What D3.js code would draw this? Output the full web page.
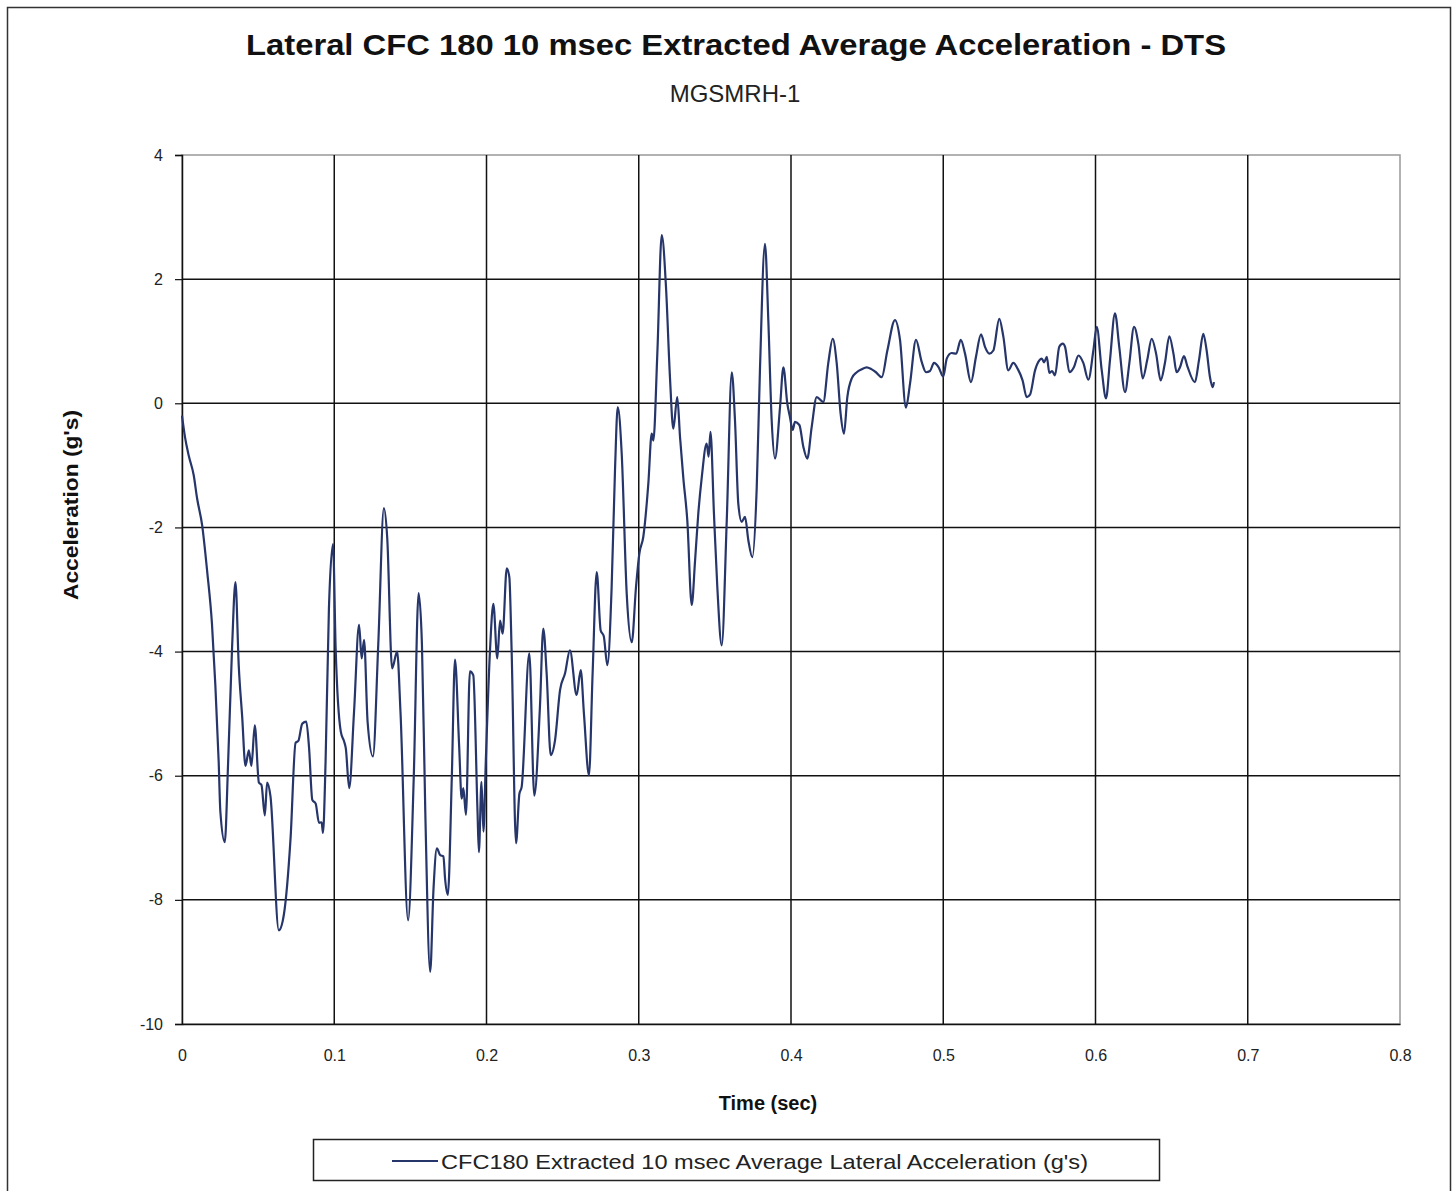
<!DOCTYPE html>
<html><head><meta charset="utf-8">
<script src="https://cdn.jsdelivr.net/npm/d3@7"></script>
<style>body{margin:0;background:#fff;} svg{display:block;font-family:"Liberation Sans",Arial,sans-serif;}</style>
</head><body>
<svg id="chart" width="1455" height="1191"></svg>
<script>
const titleText = "Lateral CFC 180 10 msec Extracted Average Acceleration - DTS";
const subtitleText = "MGSMRH-1";
const xLabel = "Time (sec)";
const yLabel = "Acceleration  (g's)";
const legendLabel = "CFC180 Extracted 10 msec Average Lateral Acceleration (g's)";
const xTicks = [0, 0.1, 0.2, 0.3, 0.4, 0.5, 0.6, 0.7, 0.8];
const xTickLabels = ["0", "0.1", "0.2", "0.3", "0.4", "0.5", "0.6", "0.7", "0.8"];
const yTicks = [4, 2, 0, -2, -4, -6, -8, -10];
const yTickLabels = ["4", "2", "0", "-2", "-4", "-6", "-8", "-10"];

// time in milliseconds
const timeMs = [
0,2,4.5,7.7,9.9,13.2,16.5,19.7,21.9,24.1,25.2,28.1,30.3,32.9,35.1,37.3,39.5,41.7,43.9,45.6,
47.8,50.5,52.2,54.4,55.9,58.1,63.6,66.9,71.3,74.6,76.4,79.0,81.6,83.4,85.6,87.8,90.0,91.7,92.6,94.3,
96.5,99.2,100.9,104.3,106.5,107.6,109.8,113.0,116.3,118.0,119.6,121.9,125.4,128.9,132.6,134.8,138.0,141.3,143.5,148.5,
152.2,155.4,157.6,159.8,163.0,165.2,167.4,169.6,171.7,172.8,174.6,177.2,179.3,182.0,183.7,184.8,186.5,189.1,191.3,194.1,
195.0,196.7,198.0,199.5,202.3,204.5,207.1,208.9,210.6,213.3,215.0,216.5,219.4,221.6,223.1,228.1,231.4,235.1,237.3,239.5,
242.2,245.0,248.3,251.6,254.8,259.2,261.9,264.0,267.3,269.7,272.4,275.0,277.0,279.4,282.2,284.4,286.2,288.8,292.1,295.4,
298.2,300.4,303.0,306.3,308.5,309.6,312.2,315.1,317.9,320.5,322.7,325.3,327.1,329.3,331.9,334.8,337.0,339.1,341.4,344.6,
345.9,347.1,349.4,351.6,354.5,357.8,361.1,363.2,365.4,367.6,369.8,372.0,374.6,377.5,379.6,382.9,385.1,387.3,389.5,392.8,
395.0,397.6,399.3,401.1,402.6,405.5,408.1,410.7,413.6,416.9,421.2,424.5,427.4,430.0,432.6,434.8,437.0,439.9,443.2,446.5,
449.7,452.8,455.8,459.6,463.3,468.3,471.6,475.5,478.2,482.1,485.8,488.7,491.3,493.9,497.0,500.0,502.3,505.5,508.5,511.5,
514.3,518.2,521.5,524.8,527.4,530.3,532.9,536.8,539.5,542.7,546.0,549.0,552.1,554.8,557.0,560.3,563.1,564.7,566.3,568.0,
569.7,571.5,573.4,576.2,578.5,580.0,582.9,585.8,588.8,592.0,595.3,598.6,600.8,604.1,606.9,609.5,612.8,615.6,619.4,622.2,
625.3,628.2,631.0,634.0,636.9,639.8,642.8,645.6,648.5,651.2,653.3,655.5,658.1,660.3,665.3,668.0,670.8,673.0,675.2,677.0,
677.8
];
// acceleration in g's
const accelG = [
-0.20,-0.55,-0.85,-1.16,-1.53,-1.96,-2.70,-3.56,-4.54,-5.78,-6.58,-7.07,-5.78,-3.93,-2.88,-4.24,-5.04,-5.84,-5.59,-5.84,
-5.19,-6.11,-6.15,-6.64,-6.11,-6.33,-8.49,-8.24,-7.01,-5.47,-5.44,-5.16,-5.13,-5.53,-6.39,-6.45,-6.76,-6.75,-6.92,-5.78,
-3.31,-2.27,-3.93,-5.29,-5.45,-5.56,-6.20,-4.97,-3.57,-4.11,-3.81,-5.13,-5.69,-3.89,-1.69,-2.17,-4.27,-4.00,-4.97,-8.33,
-6.04,-3.06,-3.89,-6.58,-9.16,-7.82,-7.17,-7.28,-7.30,-7.66,-7.92,-6.04,-4.13,-5.50,-6.37,-6.20,-6.63,-4.32,-4.38,-6.58,
-7.23,-6.10,-6.90,-5.80,-3.98,-3.23,-4.11,-3.50,-3.71,-2.66,-2.80,-3.98,-7.09,-6.29,-6.18,-4.03,-6.32,-4.89,-3.63,-4.35,
-5.67,-5.43,-4.62,-4.35,-3.98,-4.70,-4.30,-5.00,-5.99,-4.35,-2.72,-3.66,-3.75,-4.22,-2.96,-1.08,-0.06,-0.81,-3.07,-3.85,
-2.96,-2.42,-2.15,-1.29,-0.49,-0.60,0.80,2.71,1.87,0.42,-0.41,0.10,-0.54,-1.21,-1.89,-3.25,-2.53,-1.78,-1.19,-0.65,
-0.86,-0.46,-1.78,-2.96,-3.90,-1.89,0.50,-0.27,-1.62,-1.91,-1.83,-2.21,-2.48,-1.35,0.53,2.57,1.34,-0.27,-0.89,-0.06,
0.58,-0.01,-0.22,-0.43,-0.30,-0.35,-0.70,-0.89,-0.38,0.10,0.02,0.65,1.04,0.65,-0.17,-0.49,0.10,0.40,0.50,0.55,
0.58,0.55,0.50,0.42,0.85,1.34,1.02,-0.07,0.32,1.02,0.67,0.50,0.52,0.65,0.58,0.43,0.72,0.81,0.80,1.02,
0.80,0.34,0.75,1.11,0.91,0.80,0.85,1.36,1.07,0.53,0.65,0.55,0.37,0.10,0.14,0.53,0.69,0.72,0.66,0.75,
0.49,0.52,0.45,0.91,0.96,0.91,0.50,0.58,0.77,0.65,0.38,0.85,1.23,0.53,0.08,0.69,1.45,0.91,0.18,0.64,
1.23,0.95,0.40,0.70,1.04,0.80,0.37,0.65,1.08,0.80,0.50,0.58,0.76,0.60,0.34,0.70,1.12,0.85,0.42,0.26,
0.34
];

const svg = d3.select("#chart");
const W = 1455, H = 1191;
const plot = {left: 182, top: 155, right: 1400, bottom: 1024};

// outer frame
svg.append("rect").attr("x", 7.5).attr("y", 7.5).attr("width", W - 12).attr("height", H - 5)
  .attr("fill", "#fff").attr("stroke", "#333").attr("stroke-width", 1.5);

const x = d3.scaleLinear().domain([0, 0.8]).range([plot.left, plot.right]);
const y = d3.scaleLinear().domain([-10, 4]).range([plot.bottom, plot.top]);

// plot border (light)
svg.append("rect").attr("x", plot.left).attr("y", plot.top)
  .attr("width", plot.right - plot.left).attr("height", plot.bottom - plot.top)
  .attr("fill", "none").attr("stroke", "#999").attr("stroke-width", 1.5);

// grid
const g = svg.append("g");
g.selectAll(".vg").data(xTicks.filter(d => d > 0 && d < 0.8)).join("line")
  .attr("x1", d => x(d)).attr("x2", d => x(d)).attr("y1", plot.top).attr("y2", plot.bottom)
  .attr("stroke", "#111").attr("stroke-width", 1.5);
g.selectAll(".hg").data(yTicks.filter(d => d > -10 && d < 4)).join("line")
  .attr("x1", plot.left).attr("x2", plot.right).attr("y1", d => y(d)).attr("y2", d => y(d))
  .attr("stroke", "#111").attr("stroke-width", 1.5);

// axes
const yAxis = svg.append("g").attr("transform", `translate(${plot.left},0)`)
  .call(d3.axisLeft(y).tickValues(yTicks).tickSize(7).tickPadding(12)
    .tickFormat((d, i) => yTickLabels[i]));
const xAxis = svg.append("g").attr("transform", `translate(0,${plot.bottom})`)
  .call(d3.axisBottom(x).tickValues(xTicks).tickSize(0).tickPadding(26)
    .tickFormat((d, i) => xTickLabels[i]));
[yAxis, xAxis].forEach(a => {
  a.select(".domain").attr("stroke", "#111").attr("stroke-width", 1.5);
  a.selectAll(".tick line").attr("stroke", "#111").attr("stroke-width", 1.2);
  a.selectAll("text").attr("font-family", "Liberation Sans, Arial, sans-serif")
    .attr("font-size", 16).attr("fill", "#222");
});

// data line
const pts = timeMs.map((t, i) => [t / 1000, accelG[i]]);
const line = d3.line().x(d => x(d[0])).y(d => y(d[1])).curve(d3.curveMonotoneX);
svg.append("path").datum(pts).attr("d", line)
  .attr("fill", "none").attr("stroke", "#26356a").attr("stroke-width", 2.2);

// titles
svg.append("text").attr("x", 736).attr("y", 55).attr("text-anchor", "middle")
  .attr("font-size", 30).attr("font-weight", "bold").attr("fill", "#111")
  .attr("textLength", 980).attr("lengthAdjust", "spacingAndGlyphs").text(titleText);
svg.append("text").attr("x", 735).attr("y", 102).attr("text-anchor", "middle")
  .attr("font-size", 24).attr("fill", "#222").text(subtitleText);
svg.append("text").attr("x", 768).attr("y", 1110).attr("text-anchor", "middle")
  .attr("font-size", 20).attr("font-weight", "bold").attr("fill", "#111").text(xLabel);
svg.append("text").attr("transform", "translate(78,505) rotate(-90)").attr("text-anchor", "middle")
  .attr("font-size", 21).attr("font-weight", "bold").attr("fill", "#111")
  .attr("textLength", 190).attr("lengthAdjust", "spacingAndGlyphs").text(yLabel);

// legend
const lg = svg.append("g");
lg.append("rect").attr("x", 313.5).attr("y", 1139.5).attr("width", 846).attr("height", 41)
  .attr("fill", "#fff").attr("stroke", "#222").attr("stroke-width", 1.5);
lg.append("line").attr("x1", 392).attr("x2", 438).attr("y1", 1161).attr("y2", 1161)
  .attr("stroke", "#26356a").attr("stroke-width", 2.2);
lg.append("text").attr("x", 441).attr("y", 1169).attr("font-size", 21).attr("fill", "#222")
  .attr("textLength", 647).attr("lengthAdjust", "spacingAndGlyphs").text(legendLabel);
</script>
</body></html>
